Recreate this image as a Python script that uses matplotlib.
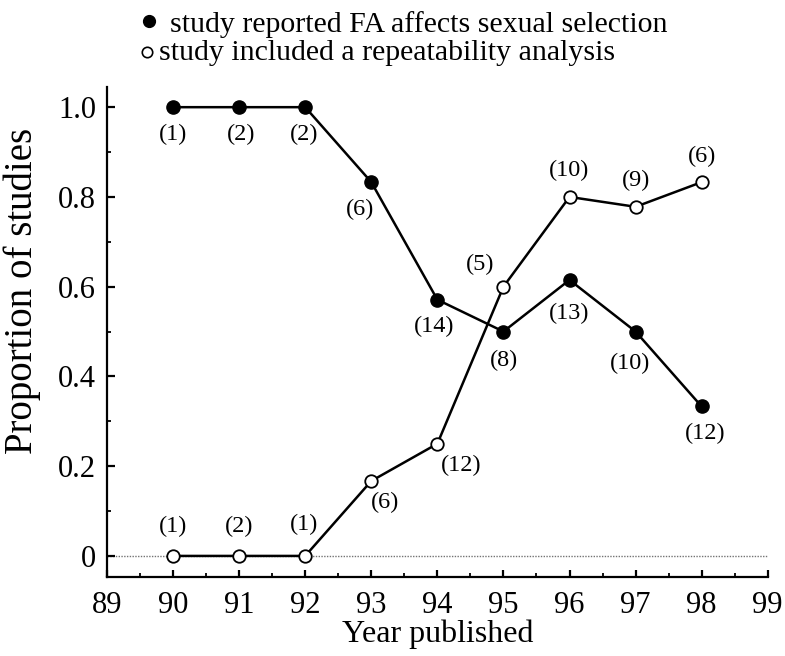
import numpy as np
from matplotlib import pyplot as plt
from matplotlib.lines import Line2D
from matplotlib.ticker import MultipleLocator, FuncFormatter

# publication year (19xx)
years = [90, 91, 92, 93, 94, 95, 96, 97, 98]

# proportion of studies reporting that FA affects sexual selection
fa_effect = [1.0, 1.0, 1.0, 0.833, 0.571, 0.5, 0.615, 0.5, 0.333]
fa_effect_n = [1, 2, 2, 6, 14, 8, 13, 10, 12]

# proportion of studies with a repeatability analysis
repeat = [0.0, 0.0, 0.0, 0.167, 0.25, 0.6, 0.8, 0.778, 0.833]
repeat_n = [1, 2, 1, 6, 12, 5, 10, 9, 6]

# where each sample-size label sits relative to its point (pixels)
fa_offsets = [(0, -27), (2, -27), (-1, -27), (-11, -27), (-3, -27),
              (1, -29), (0, -34), (-6, -32), (4, -27)]
rep_offsets = [(0, 29), (0, 29), (-1, 31), (14, -21), (24, -22),
               (-23, 22), (0, 26), (0, 26), (0, 26)]

plt.rcParams['font.family'] = ['Liberation Serif', 'DejaVu Serif']

fig = plt.figure(figsize=(7.85, 6.56), dpi=100)
ax = fig.add_axes([0.1363, 0.1204, 0.8417, 0.7470])

ax.axhline(0, color='0.45', lw=1.0, ls=(0, (1, 1)), zorder=1)

ax.plot(years, fa_effect, color='black', lw=1.8, marker='o', ms=9.5,
        mfc='black', mec='black', zorder=3)
ax.plot(years, repeat, color='black', lw=1.8, marker='o', ms=9.0,
        mfc='white', mec='black', mew=1.3, zorder=3)

for x, y, n, off in zip(years, fa_effect, fa_effect_n, fa_offsets):
    ax.annotate('({})'.format(n), (x, y), xytext=off, textcoords='offset pixels',
                ha='center', va='center', fontsize=17.5)
for x, y, n, off in zip(years, repeat, repeat_n, rep_offsets):
    ax.annotate('({})'.format(n), (x, y), xytext=off, textcoords='offset pixels',
                ha='center', va='center', fontsize=17.5)

ax.set_xlim(89, 99)
ax.set_ylim(-0.047, 1.045)
ax.xaxis.set_major_locator(MultipleLocator(1))
ax.xaxis.set_minor_locator(MultipleLocator(0.5))
ax.yaxis.set_major_locator(MultipleLocator(0.2))
ax.yaxis.set_minor_locator(MultipleLocator(0.1))
ax.yaxis.set_major_formatter(FuncFormatter(lambda v, p: '0' if abs(v) < 1e-9 else '{:.1f}'.format(v)))

for side in ('top', 'right'):
    ax.spines[side].set_visible(False)
for side in ('left', 'bottom'):
    ax.spines[side].set_linewidth(1.6)

ax.tick_params(which='major', direction='in', length=5, width=1.6, labelsize=22)
ax.tick_params(axis='x', which='major', pad=10)
ax.tick_params(axis='y', which='major', length=6, pad=8)
ax.tick_params(which='minor', direction='in', length=3, width=1.3)

ax.set_xlabel('Year published', fontsize=23, labelpad=0)
ax.set_ylabel('Proportion of studies', fontsize=28)
ax.yaxis.set_label_coords(-0.100, 0.584)

# key above the plot: marker + description per series
key_markers = [dict(mfc='black', mec='black', ms=8.5, mew=1.0),
               dict(mfc='white', mec='black', ms=7.5, mew=1.2)]
key_labels = ['study reported FA affects sexual selection',
              'study included a repeatability analysis']
key_marker_xy = [(0.1898, 0.968), (0.1873, 0.9207)]
key_text_xy = [(0.2166, 0.951), (0.2025, 0.9085)]
for style, label, mxy, txy in zip(key_markers, key_labels, key_marker_xy, key_text_xy):
    fig.add_artist(Line2D([mxy[0]], [mxy[1]], ls='none', marker='o',
                          transform=fig.transFigure, **style))
    fig.text(txy[0], txy[1], label, fontsize=21.5, ha='left', va='baseline')

fig.savefig('out.png', dpi=100)
